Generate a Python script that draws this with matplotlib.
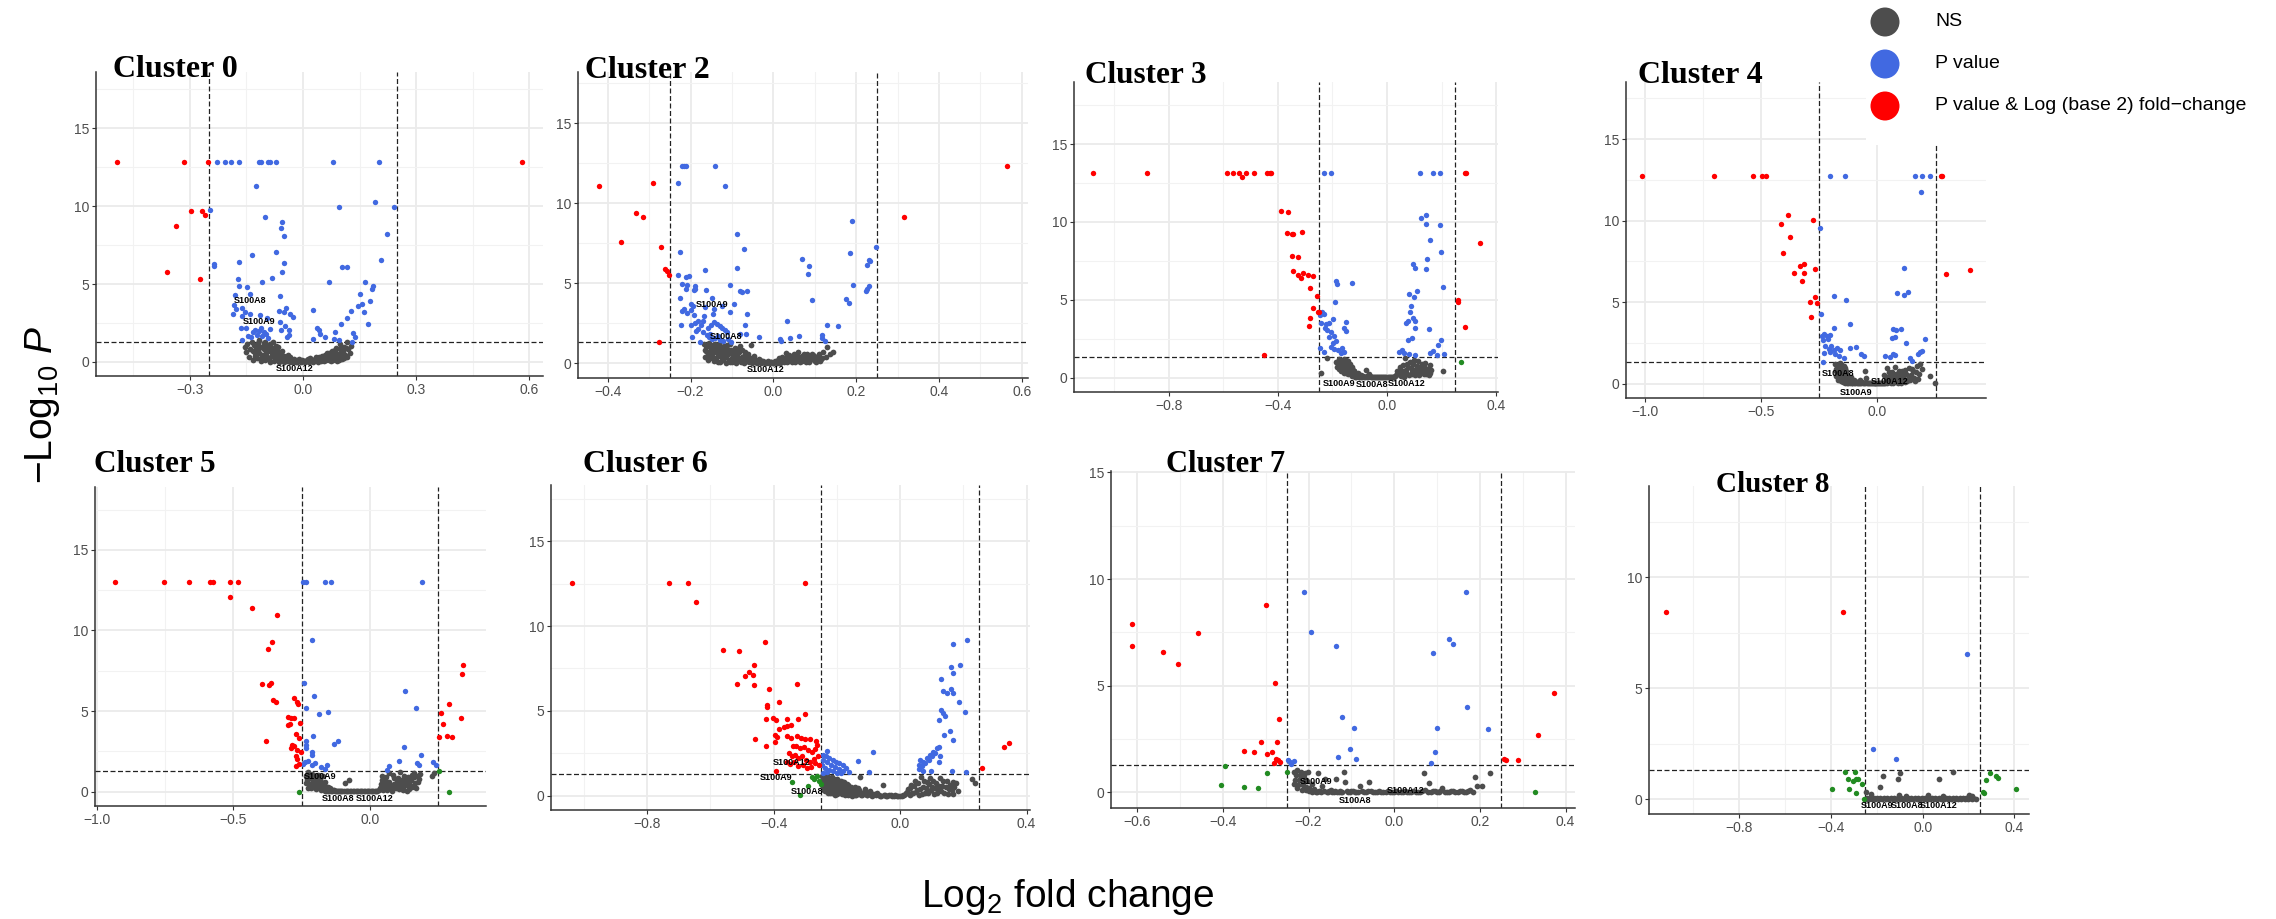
import matplotlib
matplotlib.use("Agg")
import matplotlib.pyplot as plt
from matplotlib.patches import Ellipse
from matplotlib.ticker import MultipleLocator, AutoMinorLocator, FuncFormatter

W, H, DPI = 2276, 919, 100

plt.rcParams['font.family'] = ['Liberation Sans', 'DejaVu Sans']
plt.rcParams['mathtext.fontset'] = 'custom'
plt.rcParams['mathtext.rm'] = 'Liberation Sans'
plt.rcParams['mathtext.it'] = 'Liberation Sans:italic'

# Farben wie EnhancedVolcano
COL_NS = '#4D4D4D'
COL_FC = '#228B22'
COL_P = '#4169E1'
COL_BOTH = '#FF0000'

legend_labels = ['NS', 'P value', 'P value & Log (base 2) fold\u2212change']

# ---------------- Cluster 0 ----------------
c0_both = [(-0.493, 12.8), (-0.316, 12.8), (-0.252, 12.8), (0.581, 12.8), (-0.297, 9.7), (-0.268, 9.7),
           (-0.258, 9.4), (-0.337, 8.7), (-0.360, 5.8), (-0.272, 5.3)]
c0_p = [(-0.228, 12.8), (-0.207, 12.8), (-0.191, 12.8), (-0.168, 12.8), (-0.117, 12.8), (-0.110, 12.8),
        (-0.093, 12.8), (-0.088, 12.8), (-0.070, 12.8), (0.079, 12.8), (0.202, 12.8),
        (-0.124, 11.3), (-0.246, 9.73), (-0.100, 9.28), (-0.056, 9.0), (-0.057, 8.59), (-0.050, 8.1),
        (-0.134, 6.86), (-0.070, 7.05), (-0.235, 6.28), (-0.236, 6.17), (-0.168, 6.41), (-0.049, 6.32),
        (0.192, 10.29), (0.096, 9.96), (0.241, 9.96), (0.223, 8.21), (0.206, 6.56), (0.104, 6.06),
        (0.116, 6.06), (-0.055, 5.74), (-0.082, 5.4), (-0.173, 5.34), (-0.108, 5.14), (0.068, 5.16),
        (0.164, 5.14), (-0.169, 4.89), (-0.148, 4.84), (0.185, 4.9), (0.183, 4.65), (-0.181, 4.31),
        (-0.141, 4.35), (-0.060, 4.26), (0.152, 4.39), (0.178, 3.94), (0.157, 3.7), (0.146, 3.6),
        (-0.182, 3.66), (-0.177, 3.4), (-0.160, 3.43), (-0.154, 3.21), (-0.140, 3.06), (-0.186, 3.09),
        (-0.162, 2.98), (-0.114, 3.0), (-0.095, 2.83), (-0.064, 3.24), (-0.046, 3.45), (-0.050, 3.21),
        (-0.035, 3.1), (-0.025, 2.89), (0.028, 3.34), (0.127, 3.24), (0.163, 3.21), (0.118, 2.85),
        (0.101, 2.44), (0.172, 2.42), (-0.061, 2.57), (-0.163, 2.16), (-0.150, 2.16), (-0.127, 2.08),
        (-0.117, 1.99), (-0.103, 1.95), (-0.088, 2.12), (-0.047, 2.29), (-0.036, 2.04), (-0.058, 2.04),
        (0.038, 2.16), (0.043, 2.08), (0.084, 1.93), (0.133, 1.89), (0.138, 1.61), (0.046, 1.8),
        (0.059, 1.61), (0.026, 1.48), (0.082, 1.48), (0.096, 1.41), (0.130, 1.31), (-0.160, 1.39),
        (-0.137, 1.61), (-0.121, 1.76), (-0.108, 1.69), (-0.093, 1.54), (-0.146, 1.65), (-0.042, 1.63),
        (-0.036, 1.71), (-0.131, 1.9), (-0.112, 2.2), (-0.098, 1.8)]
c0_ns = [(-0.154, 0.95), (-0.150, 0.62), (-0.147, 1.15), (-0.142, 0.35), (-0.139, 0.80), (-0.135, 1.30),
         (-0.131, 0.15), (-0.128, 0.55), (-0.125, 1.05), (-0.121, 0.25), (-0.118, 0.75), (-0.116, 1.38),
         (-0.112, 0.05), (-0.109, 0.45), (-0.106, 0.95), (-0.103, 1.20), (-0.100, 0.10), (-0.097, 0.65),
         (-0.094, 0.30), (-0.091, 1.10), (-0.088, 0.02), (-0.085, 0.85), (-0.082, 0.40), (-0.079, 1.25),
         (-0.076, 0.08), (-0.073, 0.55), (-0.070, 0.20), (-0.067, 0.95), (-0.064, 0.03), (-0.061, 0.38),
         (-0.058, 0.12), (-0.055, 0.70), (-0.051, 0.02), (-0.047, 0.25), (-0.043, 0.05), (-0.039, 0.45),
         (-0.035, 0.02), (-0.030, 0.15), (-0.025, 0.01), (-0.020, 0.08), (-0.015, 0.01), (-0.010, 0.20),
         (-0.005, 0.02), (0.000, 0.06), (0.005, 0.01), (0.010, 0.12), (0.015, 0.02), (0.020, 0.25),
         (0.025, 0.04), (0.030, 0.10), (0.035, 0.30), (0.040, 0.03), (0.045, 0.18), (0.050, 0.40),
         (0.055, 0.06), (0.060, 0.28), (0.064, 0.55), (0.068, 0.10), (0.072, 0.35), (0.076, 0.70),
         (0.080, 0.15), (0.084, 0.50), (0.088, 0.90), (0.091, 0.05), (0.094, 0.30), (0.097, 1.15),
         (0.100, 0.65), (0.104, 0.20), (0.108, 0.95), (0.112, 0.45), (0.116, 1.25), (0.120, 0.80),
         (0.124, 0.55), (0.127, 1.05)]
c0_ns_core = [(-0.133, 0.70), (-0.129, 1.10), (-0.126, 0.40), (-0.123, 0.85), (-0.119, 1.20), (-0.115, 0.60),
              (-0.111, 0.95), (-0.107, 0.30), (-0.104, 0.80), (-0.101, 1.30), (-0.098, 0.45), (-0.095, 1.00),
              (-0.092, 0.70), (-0.089, 0.25), (-0.086, 1.15), (-0.083, 0.60), (-0.080, 0.90), (-0.077, 0.35),
              (-0.074, 0.80), (-0.071, 1.05), (-0.068, 0.45), (-0.065, 0.65), (-0.062, 0.20), (-0.059, 0.50),
              (-0.056, 0.30), (-0.053, 0.15), (-0.049, 0.40), (-0.045, 0.12), (-0.041, 0.22), (-0.037, 0.08),
              (-0.033, 0.30), (-0.028, 0.06), (-0.023, 0.18), (-0.018, 0.03), (-0.012, 0.10), (-0.007, 0.05),
              (-0.002, 0.14), (0.003, 0.04), (0.008, 0.08), (0.013, 0.18), (0.018, 0.06), (0.023, 0.12),
              (0.028, 0.02), (0.033, 0.22), (0.038, 0.10), (0.043, 0.35), (0.048, 0.08), (0.053, 0.22),
              (0.058, 0.45), (0.062, 0.15), (0.066, 0.30), (0.070, 0.60), (0.074, 0.05), (0.078, 0.40),
              (0.082, 0.25), (0.086, 0.75), (0.090, 0.50), (0.095, 0.15), (0.099, 0.85), (0.102, 0.40),
              (0.106, 0.65), (0.110, 0.25), (0.114, 0.90), (0.118, 0.35)]
c0_genes = [('S100A8', -0.141, 3.94), ('S100A9', -0.115, 2.59), ('S100A12', -0.021, -0.39)]

# ---------------- Cluster 2 ----------------
c2_both = [(-0.422, 11.1), (-0.291, 11.26), (-0.332, 9.41), (-0.314, 9.16), (-0.367, 7.56), (-0.272, 7.27),
           (-0.263, 5.86), (-0.256, 5.78), (-0.251, 5.51), (-0.277, 1.35), (0.565, 12.32), (0.315, 9.12)]
c2_p = [(-0.220, 12.32), (-0.216, 12.32), (-0.212, 12.32), (-0.140, 12.32), (-0.231, 11.28), (-0.118, 11.1),
        (-0.089, 8.08), (-0.070, 7.15), (-0.225, 6.96), (-0.089, 5.94), (-0.166, 5.8), (-0.230, 5.51),
        (-0.212, 5.36), (-0.203, 5.44), (-0.221, 4.94), (-0.208, 4.9), (-0.190, 4.84), (-0.192, 4.55),
        (-0.190, 4.61), (-0.210, 4.65), (-0.163, 4.55), (-0.105, 4.92), (-0.080, 4.51), (-0.076, 4.43),
        (-0.063, 4.53), (-0.225, 4.05), (-0.148, 4.07), (-0.199, 3.7), (-0.195, 3.6), (-0.095, 3.68),
        (-0.166, 3.51), (-0.143, 3.41), (-0.125, 3.57), (-0.221, 3.28), (-0.217, 3.39), (-0.209, 3.16),
        (-0.200, 3.32), (-0.192, 3.03), (-0.145, 3.1), (-0.105, 3.18), (-0.064, 3.1), (-0.167, 2.93),
        (-0.224, 2.41), (-0.199, 2.39), (-0.189, 2.53), (-0.181, 2.66), (-0.174, 2.39), (-0.169, 2.66),
        (-0.187, 2.02), (-0.181, 2.14), (-0.150, 2.39), (-0.143, 2.56), (-0.137, 2.47), (-0.130, 2.33),
        (-0.124, 2.2), (-0.118, 2.08), (-0.113, 1.95), (-0.068, 2.41), (-0.196, 1.66), (-0.161, 1.77),
        (-0.155, 1.62), (-0.148, 1.5), (-0.142, 1.56), (-0.135, 1.7), (-0.129, 1.45), (-0.121, 1.41),
        (-0.109, 1.5), (-0.103, 1.35), (-0.177, 1.31), (-0.080, 1.85), (-0.065, 1.83), (-0.035, 1.66),
        (0.033, 2.66), (0.068, 6.5), (0.086, 6.05), (0.084, 5.57), (0.093, 3.93), (0.061, 1.68),
        (0.039, 1.6), (0.017, 1.54), (0.019, 1.41), (0.117, 1.75), (0.117, 1.56), (0.129, 2.41),
        (0.155, 2.31), (0.125, 1.37), (0.190, 8.89), (0.184, 6.9), (0.176, 3.99), (0.182, 3.76),
        (0.193, 4.86), (0.226, 6.17), (0.230, 6.48), (0.233, 6.38), (0.223, 4.53), (0.225, 4.65),
        (0.230, 4.84), (0.249, 7.25), (-0.158, 2.2), (-0.170, 1.95), (-0.152, 1.85)]
c2_ns = [(-0.168, 1.20), (-0.165, 0.85), (-0.162, 1.05), (-0.159, 0.60), (-0.156, 1.25), (-0.153, 0.35),
         (-0.150, 0.90), (-0.147, 1.15), (-0.144, 0.15), (-0.141, 0.70), (-0.138, 1.00), (-0.135, 0.45),
         (-0.132, 1.22), (-0.129, 0.05), (-0.126, 0.80), (-0.123, 0.30), (-0.120, 1.10), (-0.117, 0.55),
         (-0.114, 0.02), (-0.111, 0.90), (-0.108, 0.20), (-0.105, 1.20), (-0.102, 0.65), (-0.099, 0.10),
         (-0.096, 0.40), (-0.093, 0.95), (-0.090, 0.03), (-0.087, 0.55), (-0.084, 0.18), (-0.081, 1.10),
         (-0.078, 0.08), (-0.075, 0.40), (-0.072, 0.02), (-0.068, 0.70), (-0.064, 0.12), (-0.060, 0.30),
         (-0.055, 1.15), (-0.052, 0.02), (-0.048, 0.45), (-0.044, 0.10), (-0.040, 0.01), (-0.035, 0.25),
         (-0.030, 0.03), (-0.025, 0.15), (-0.020, 0.01), (-0.015, 0.06), (-0.010, 0.02), (-0.005, 0.10),
         (0.000, 0.01), (0.005, 0.05), (0.010, 0.22), (0.015, 0.02), (0.020, 0.40), (0.025, 0.08),
         (0.030, 0.62), (0.035, 0.15), (0.040, 0.30), (0.045, 0.05), (0.050, 0.55), (0.055, 0.20),
         (0.060, 0.70), (0.065, 0.10), (0.070, 0.45), (0.075, 0.25), (0.080, 0.60), (0.085, 0.08),
         (0.090, 0.35), (0.095, 0.50), (0.100, 0.15), (0.105, 0.40), (0.110, 0.60), (0.115, 0.25),
         (0.120, 0.70), (0.126, 0.42), (0.130, 1.00), (0.137, 0.55), (0.143, 0.73)]
c2_ns_core = [(-0.166, 0.40), (-0.163, 0.75), (-0.160, 1.10), (-0.157, 0.20), (-0.154, 0.65), (-0.151, 1.00),
              (-0.148, 0.45), (-0.145, 0.85), (-0.142, 1.20), (-0.139, 0.30), (-0.136, 0.75), (-0.133, 0.10),
              (-0.130, 0.55), (-0.127, 1.00), (-0.124, 0.65), (-0.121, 0.20), (-0.118, 0.85), (-0.115, 0.40),
              (-0.112, 1.15), (-0.109, 0.60), (-0.106, 0.05), (-0.103, 0.85), (-0.100, 0.35), (-0.097, 0.75),
              (-0.094, 0.15), (-0.091, 0.60), (-0.088, 0.90), (-0.085, 0.35), (-0.082, 0.70), (-0.079, 0.25),
              (-0.076, 0.85), (-0.073, 0.15), (-0.070, 0.45), (-0.066, 0.25), (-0.062, 0.55), (-0.058, 0.08),
              (-0.054, 0.35), (-0.050, 0.15), (-0.046, 0.25), (-0.042, 0.05), (-0.037, 0.12), (-0.032, 0.20),
              (-0.027, 0.05), (-0.022, 0.10), (-0.017, 0.03), (-0.012, 0.12), (-0.007, 0.05), (-0.002, 0.03),
              (0.003, 0.12), (0.008, 0.04), (0.013, 0.30), (0.018, 0.10), (0.023, 0.20), (0.028, 0.35),
              (0.033, 0.05), (0.038, 0.50), (0.043, 0.20), (0.048, 0.35), (0.053, 0.10), (0.058, 0.45),
              (0.063, 0.30), (0.068, 0.15), (0.073, 0.55), (0.078, 0.10), (0.083, 0.40), (0.088, 0.20),
              (0.093, 0.60), (0.098, 0.30), (0.103, 0.10), (0.108, 0.45), (0.113, 0.15), (0.118, 0.35)]
c2_genes = [('S100A9', -0.149, 3.7), ('S100A8', -0.115, 1.7), ('S100A12', -0.019, -0.42)]

# ---------------- Cluster 3 ----------------
c3_both = [(-1.078, 13.15), (-0.881, 13.15), (-0.587, 13.15), (-0.566, 13.15), (-0.544, 13.15), (-0.516, 13.15),
           (-0.487, 13.15), (-0.440, 13.15), (-0.431, 13.15), (-0.424, 13.15), (-0.532, 12.87), (0.285, 13.15),
           (0.291, 13.15), (-0.390, 10.68), (-0.362, 10.62), (-0.368, 9.31), (-0.350, 9.2), (-0.343, 9.2),
           (-0.311, 9.35), (-0.347, 7.84), (-0.325, 7.74), (-0.345, 6.86), (-0.327, 6.6), (-0.316, 6.38),
           (-0.308, 6.71), (-0.289, 6.6), (-0.273, 6.55), (-0.283, 5.78), (-0.258, 5.24), (-0.273, 4.45),
           (-0.253, 4.23), (-0.250, 4.19), (-0.281, 3.8), (-0.285, 3.33), (-0.451, 1.42), (0.259, 4.96),
           (0.262, 4.86), (0.340, 8.66), (0.285, 3.27)]
c3_fc = [(0.273, 1.03)]
c3_p = [(-0.231, 13.15), (-0.206, 13.15), (0.122, 13.15), (0.170, 13.15), (0.194, 13.15), (0.124, 10.27),
        (0.142, 10.47), (0.144, 9.89), (0.196, 9.82), (0.159, 8.83), (0.198, 8.1), (0.148, 7.63),
        (0.097, 7.31), (0.103, 7.07), (0.144, 6.96), (0.204, 5.82), (0.111, 5.54), (0.082, 5.35),
        (0.100, 5.2), (0.087, 4.62), (0.083, 4.23), (0.095, 3.8), (0.104, 3.63), (0.069, 3.52),
        (0.076, 3.63), (0.102, 3.16), (0.154, 3.14), (0.076, 2.41), (0.092, 2.56), (0.198, 2.39),
        (0.187, 2.06), (0.044, 1.61), (0.054, 1.76), (0.062, 1.57), (0.080, 1.53), (0.102, 1.42),
        (0.159, 1.59), (0.168, 1.72), (0.183, 1.46), (0.208, 1.5), (-0.188, 6.21), (-0.182, 6.02),
        (-0.128, 6.1), (-0.190, 4.88), (-0.240, 4.23), (-0.232, 4.08), (-0.245, 4.02), (-0.243, 3.48),
        (-0.224, 3.44), (-0.212, 3.52), (-0.197, 3.76), (-0.149, 3.59), (-0.228, 3.16), (-0.220, 3.05),
        (-0.157, 3.16), (-0.152, 3.01), (-0.206, 2.9), (-0.193, 2.66), (-0.214, 2.58), (-0.186, 2.34),
        (-0.199, 2.24), (-0.206, 1.98), (-0.196, 1.85), (-0.181, 1.76), (-0.165, 1.89), (-0.159, 1.65),
        (-0.168, 1.59), (-0.247, 1.93), (-0.230, 1.63)]
c3_ns = [(-0.241, 0.30), (-0.219, 1.27), (-0.188, 1.00), (-0.175, 0.55), (-0.170, 1.10), (-0.165, 0.80),
         (-0.162, 0.40), (-0.158, 1.20), (-0.155, 0.65), (-0.152, 0.95), (-0.149, 0.30), (-0.146, 0.75),
         (-0.143, 1.05), (-0.140, 0.50), (-0.137, 0.20), (-0.134, 0.85), (-0.131, 0.40), (-0.128, 0.65),
         (-0.125, 0.15), (-0.122, 0.45), (-0.119, 0.10), (-0.116, 0.30), (-0.112, 0.05), (-0.108, 0.20),
         (-0.104, 0.02), (-0.100, 0.10), (-0.095, 0.01), (-0.090, 0.08), (-0.084, 0.02), (-0.078, 0.50),
         (-0.072, 0.03), (-0.066, 0.25), (-0.060, 0.01), (-0.052, 0.05), (-0.045, 0.01), (-0.038, 0.02),
         (-0.030, 0.01), (-0.022, 0.03), (-0.014, 0.01), (-0.006, 0.02), (0.002, 0.01), (0.010, 0.03),
         (0.018, 0.01), (0.026, 0.05), (0.034, 0.15), (0.040, 0.30), (0.046, 0.55), (0.052, 0.10),
         (0.058, 0.80), (0.064, 0.40), (0.067, 1.27), (0.072, 0.20), (0.078, 0.65), (0.084, 1.00),
         (0.090, 0.35), (0.096, 0.85), (0.102, 0.15), (0.108, 0.55), (0.114, 1.05), (0.120, 0.30),
         (0.126, 0.75), (0.132, 0.45), (0.138, 0.95), (0.144, 0.25), (0.150, 0.55), (0.156, 0.80),
         (0.162, 0.50), (0.206, 0.43)]
c3_ns_core = [(-0.185, 0.70), (-0.180, 0.90), (-0.176, 1.20), (-0.172, 0.75), (-0.168, 0.45), (-0.164, 1.05),
              (-0.160, 0.60), (-0.156, 0.30), (-0.153, 0.85), (-0.150, 1.10), (-0.147, 0.45), (-0.144, 0.20),
              (-0.141, 0.85), (-0.138, 0.60), (-0.135, 0.35), (-0.132, 0.70), (-0.129, 0.10), (-0.126, 0.50),
              (-0.123, 0.25), (-0.120, 0.40), (-0.117, 0.05), (-0.114, 0.20), (-0.110, 0.10), (-0.106, 0.30),
              (-0.102, 0.06), (-0.097, 0.15), (-0.092, 0.03), (-0.087, 0.12), (-0.081, 0.05), (-0.075, 0.10),
              (-0.069, 0.02), (-0.063, 0.08), (-0.056, 0.02), (-0.049, 0.05), (-0.041, 0.02), (-0.034, 0.04),
              (-0.026, 0.01), (-0.018, 0.04), (-0.010, 0.02), (-0.002, 0.04), (0.006, 0.02), (0.014, 0.05),
              (0.022, 0.02), (0.030, 0.10), (0.037, 0.40), (0.043, 0.20), (0.049, 0.70), (0.055, 0.30),
              (0.061, 0.05), (0.069, 0.50), (0.075, 0.90), (0.081, 0.15), (0.087, 0.60), (0.093, 0.25),
              (0.099, 1.10), (0.105, 0.40), (0.111, 0.75), (0.117, 0.15), (0.123, 0.55), (0.129, 0.90),
              (0.135, 0.20), (0.141, 0.60), (0.147, 0.35), (0.153, 0.15), (0.159, 0.30)]
c3_genes = [('S100A9', -0.174, -0.39), ('S100A8', -0.054, -0.43), ('S100A12', 0.073, -0.39)]

# ---------------- Cluster 4 ----------------
c4_both = [(-1.011, 12.73), (-0.702, 12.73), (-0.536, 12.73), (-0.494, 12.73), (-0.477, 12.73), (0.272, 12.73),
           (0.278, 12.73), (-0.383, 10.36), (-0.415, 9.81), (-0.277, 10.03), (-0.375, 8.99), (-0.404, 8.03),
           (-0.332, 7.21), (-0.315, 7.36), (-0.266, 7.05), (-0.358, 6.76), (-0.314, 6.76), (-0.324, 6.27),
           (-0.268, 5.33), (-0.288, 4.99), (-0.258, 4.93), (-0.284, 4.07), (0.295, 6.7), (0.397, 6.97)]
c4_p = [(-0.203, 12.73), (-0.140, 12.73), (0.160, 12.73), (0.193, 12.73), (0.228, 12.73), (0.189, 11.77),
        (-0.248, 9.54), (0.113, 7.11), (0.085, 5.56), (0.113, 5.46), (0.132, 5.6), (-0.188, 5.35),
        (-0.135, 5.11), (-0.244, 4.27), (-0.119, 3.68), (-0.185, 3.41), (0.066, 3.37), (0.082, 3.31),
        (0.103, 3.33), (0.064, 2.78), (0.077, 2.84), (0.122, 2.51), (0.205, 2.72), (-0.238, 2.94),
        (-0.228, 3.07), (-0.216, 2.9), (-0.202, 2.96), (-0.234, 2.7), (-0.211, 2.74), (-0.226, 2.33),
        (-0.209, 2.13), (-0.198, 2.29), (-0.188, 2.04), (-0.173, 2.19), (-0.159, 2.04), (-0.119, 2.17),
        (-0.090, 2.25), (-0.228, 1.88), (-0.202, 1.96), (-0.181, 1.84), (-0.163, 1.68), (-0.145, 1.55),
        (-0.069, 1.8), (-0.056, 1.72), (-0.235, 1.31), (0.054, 1.64), (0.067, 1.84), (0.076, 1.76),
        (0.034, 1.72), (0.142, 1.57), (0.148, 1.41), (0.173, 1.8), (0.182, 1.94), (0.192, 2.0)]
c4_ns = [(-0.180, 1.20), (-0.177, 0.90), (-0.174, 0.60), (-0.171, 1.05), (-0.168, 0.35), (-0.165, 0.80),
         (-0.162, 1.25), (-0.159, 0.50), (-0.156, 0.15), (-0.153, 0.95), (-0.150, 0.65), (-0.147, 0.30),
         (-0.144, 1.10), (-0.141, 0.05), (-0.138, 0.45), (-0.135, 0.75), (-0.132, 0.20), (-0.129, 0.55),
         (-0.125, 0.02), (-0.121, 0.30), (-0.117, 0.10), (-0.112, 0.40), (-0.107, 0.05), (-0.102, 0.20),
         (-0.097, 0.02), (-0.090, 0.10), (-0.083, 0.03), (-0.076, 0.25), (-0.069, 0.01), (-0.062, 0.06),
         (-0.052, 0.76), (-0.055, 0.02), (-0.048, 0.35), (-0.040, 0.01), (-0.032, 0.04), (-0.024, 0.01),
         (-0.016, 0.02), (-0.008, 0.01), (0.000, 0.03), (0.008, 0.01), (0.016, 0.04), (0.024, 0.01),
         (0.030, 0.55), (0.034, 0.03), (0.040, 0.95), (0.046, 0.10), (0.052, 0.45), (0.058, 0.02),
         (0.064, 0.70), (0.070, 0.20), (0.076, 1.00), (0.082, 0.35), (0.088, 0.05), (0.094, 0.55),
         (0.100, 0.20), (0.106, 0.80), (0.112, 0.40), (0.118, 0.10), (0.124, 0.60), (0.130, 0.30),
         (0.138, 0.95), (0.146, 0.50), (0.155, 0.75), (0.163, 0.18), (0.172, 1.10), (0.180, 0.60),
         (0.190, 0.90), (0.225, 0.49), (0.248, 0.04)]
c4_ns_core = [(-0.179, 0.45), (-0.176, 0.75), (-0.173, 1.15), (-0.170, 0.20), (-0.167, 0.65), (-0.164, 1.00),
              (-0.161, 0.30), (-0.158, 0.85), (-0.155, 1.20), (-0.152, 0.40), (-0.149, 0.10), (-0.146, 0.80),
              (-0.143, 0.55), (-0.140, 0.25), (-0.137, 0.95), (-0.134, 0.40), (-0.131, 0.05), (-0.128, 0.30),
              (-0.124, 0.15), (-0.119, 0.05), (-0.114, 0.20), (-0.109, 0.02), (-0.104, 0.10), (-0.099, 0.04),
              (-0.094, 0.15), (-0.087, 0.02), (-0.080, 0.06), (-0.073, 0.02), (-0.066, 0.10), (-0.058, 0.02),
              (-0.044, 0.05), (-0.036, 0.02), (-0.028, 0.03), (-0.020, 0.01), (-0.012, 0.03), (-0.004, 0.01),
              (0.004, 0.02), (0.012, 0.03), (0.020, 0.01), (0.028, 0.03), (0.036, 0.30), (0.043, 0.05),
              (0.049, 0.70), (0.055, 0.15), (0.061, 0.40), (0.067, 0.05), (0.073, 0.30), (0.079, 0.60),
              (0.085, 0.12), (0.091, 0.80), (0.097, 0.35), (0.103, 0.05), (0.109, 0.55), (0.115, 0.25),
              (0.121, 0.85), (0.127, 0.15), (0.134, 0.45), (0.142, 0.25), (0.150, 0.90), (0.159, 0.35),
              (0.168, 0.70), (0.176, 0.30), (0.185, 1.20)]
c4_genes = [('S100A8', -0.169, 0.61), ('S100A12', 0.054, 0.14), ('S100A9', -0.092, -0.57)]

# ---------------- Cluster 5 ----------------
c5_both = [(-0.934, 13.02), (-0.754, 13.02), (-0.661, 13.02), (-0.587, 13.02), (-0.573, 13.02), (-0.512, 13.02),
           (-0.484, 13.02), (-0.511, 12.07), (-0.432, 11.4), (-0.340, 10.97), (-0.360, 9.26), (-0.374, 8.82),
           (-0.395, 6.65), (-0.368, 6.61), (-0.361, 6.74), (-0.354, 5.7), (-0.344, 5.54), (-0.280, 5.83),
           (-0.267, 5.54), (-0.265, 5.41), (-0.301, 4.61), (-0.291, 4.57), (-0.279, 4.59), (-0.301, 4.11),
           (-0.294, 4.19), (-0.256, 4.24), (-0.271, 3.57), (-0.261, 3.33), (-0.380, 3.16), (-0.284, 2.91),
           (-0.277, 2.81), (-0.290, 2.71), (-0.268, 2.56), (-0.251, 2.46), (-0.270, 2.19), (-0.267, 2.0),
           (-0.271, 1.61), (-0.259, 1.74), (0.260, 4.9), (0.268, 4.21), (0.290, 5.41), (0.252, 3.41),
           (0.282, 3.47), (0.299, 3.41), (0.334, 4.57), (0.335, 7.29), (0.339, 7.87)]
c5_fc = [(-0.261, 0.0), (0.251, 1.26), (0.289, 0.0)]
c5_p = [(-0.244, 13.02), (-0.234, 13.02), (-0.165, 13.02), (-0.143, 13.02), (0.189, 13.02), (-0.211, 9.38),
        (-0.240, 6.74), (-0.206, 5.95), (-0.233, 5.17), (-0.185, 4.83), (-0.155, 4.94), (0.129, 6.22),
        (0.168, 5.17), (-0.207, 3.47), (-0.235, 3.12), (-0.234, 2.91), (-0.233, 2.73), (-0.133, 2.93),
        (-0.117, 3.14), (-0.211, 2.44), (-0.212, 2.25), (0.124, 2.77), (0.185, 2.29), (-0.244, 1.74),
        (-0.238, 1.86), (-0.226, 1.9), (-0.213, 1.63), (-0.200, 1.78), (-0.180, 1.53), (-0.165, 1.43),
        (-0.157, 1.67), (0.104, 1.9), (0.070, 1.57), (0.061, 1.32), (0.171, 1.78), (0.179, 1.65),
        (0.229, 1.86), (0.240, 1.63)]
c5_ns = [(-0.236, 1.00), (-0.232, 0.70), (-0.228, 1.20), (-0.224, 0.45), (-0.220, 0.90), (-0.216, 0.25),
         (-0.212, 1.10), (-0.208, 0.60), (-0.204, 0.35), (-0.200, 0.85), (-0.196, 0.15), (-0.192, 1.05),
         (-0.188, 0.50), (-0.184, 0.75), (-0.180, 0.10), (-0.176, 0.40), (-0.172, 0.95), (-0.168, 0.20),
         (-0.164, 0.60), (-0.160, 0.05), (-0.155, 0.30), (-0.150, 0.02), (-0.145, 0.15), (-0.139, 0.01),
         (-0.132, 0.08), (-0.125, 0.02), (-0.118, 0.01), (-0.110, 0.05), (-0.102, 0.01), (-0.091, 0.56),
         (-0.085, 0.02), (-0.076, 0.74), (-0.068, 0.01), (-0.058, 0.03), (-0.048, 0.01), (-0.038, 0.02),
         (-0.028, 0.01), (-0.018, 0.03), (-0.008, 0.01), (0.002, 0.02), (0.012, 0.01), (0.022, 0.04),
         (0.032, 0.10), (0.040, 0.50), (0.045, 1.00), (0.050, 0.25), (0.056, 0.75), (0.062, 0.10),
         (0.068, 1.15), (0.074, 0.40), (0.080, 0.05), (0.086, 0.85), (0.092, 0.30), (0.098, 0.60),
         (0.104, 0.15), (0.110, 1.22), (0.116, 0.45), (0.122, 0.20), (0.128, 0.70), (0.134, 0.05),
         (0.140, 0.90), (0.146, 0.40), (0.152, 1.05), (0.159, 1.16), (0.166, 0.55), (0.172, 0.95),
         (0.180, 0.80), (0.232, 1.16), (0.225, 1.00)]
c5_ns_core = [(-0.234, 0.55), (-0.230, 0.85), (-0.226, 0.20), (-0.222, 1.10), (-0.218, 0.50), (-0.214, 0.80),
              (-0.210, 0.30), (-0.206, 1.00), (-0.202, 0.55), (-0.198, 0.25), (-0.194, 0.75), (-0.190, 0.35),
              (-0.186, 0.95), (-0.182, 0.20), (-0.178, 0.60), (-0.174, 0.15), (-0.170, 0.45), (-0.166, 0.05),
              (-0.162, 0.30), (-0.158, 0.12), (-0.153, 0.05), (-0.148, 0.20), (-0.142, 0.03), (-0.136, 0.10),
              (-0.129, 0.02), (-0.122, 0.06), (-0.114, 0.02), (-0.106, 0.04), (-0.097, 0.02), (-0.088, 0.05),
              (-0.080, 0.01), (-0.072, 0.04), (-0.063, 0.01), (-0.053, 0.03), (-0.043, 0.01), (-0.033, 0.03),
              (-0.023, 0.01), (-0.013, 0.03), (-0.003, 0.01), (0.007, 0.03), (0.017, 0.01), (0.027, 0.05),
              (0.036, 0.20), (0.043, 0.70), (0.048, 0.10), (0.053, 0.45), (0.059, 0.90), (0.065, 0.30),
              (0.071, 0.60), (0.077, 0.15), (0.083, 1.05), (0.089, 0.50), (0.095, 0.20), (0.101, 0.85),
              (0.107, 0.35), (0.113, 0.70), (0.119, 0.10), (0.125, 0.95), (0.131, 0.40), (0.137, 0.65),
              (0.143, 0.15), (0.149, 0.75), (0.155, 0.30), (0.162, 0.90), (0.169, 0.25), (0.176, 0.60),
              (0.184, 1.10)]
c5_genes = [('S100A9', -0.183, 0.95), ('S100A8', -0.116, -0.43), ('S100A12', 0.016, -0.43)]

# ---------------- Cluster 6 ----------------
c6_both = [(-1.037, 12.54), (-0.730, 12.54), (-0.671, 12.54), (-0.301, 12.54), (-0.646, 11.44), (-0.428, 9.06),
           (-0.561, 8.57), (-0.508, 8.51), (-0.463, 7.69), (-0.477, 7.31), (-0.466, 7.12), (-0.490, 7.06),
           (-0.515, 6.59), (-0.462, 6.51), (-0.415, 6.31), (-0.326, 6.59), (-0.422, 5.33), (-0.421, 5.23),
           (-0.383, 5.5), (-0.302, 4.8), (-0.425, 4.52), (-0.401, 4.58), (-0.391, 4.44), (-0.356, 4.54),
           (-0.323, 4.54), (-0.383, 3.91), (-0.368, 4.05), (-0.357, 4.13), (-0.344, 4.15), (-0.458, 3.34),
           (-0.425, 2.91), (-0.396, 3.56), (-0.390, 3.44), (-0.396, 3.16), (-0.356, 3.52), (-0.346, 3.4),
           (-0.325, 3.54), (-0.313, 3.4), (-0.301, 3.36), (-0.285, 3.32), (-0.265, 3.22), (-0.263, 2.99),
           (-0.340, 2.91), (-0.329, 2.95), (-0.316, 2.81), (-0.304, 2.87), (-0.291, 2.71), (-0.278, 2.61),
           (-0.268, 2.75), (-0.352, 2.52), (-0.343, 2.32), (-0.332, 2.42), (-0.322, 2.22), (-0.310, 2.36),
           (-0.297, 2.12), (-0.285, 2.02), (-0.272, 2.16), (-0.259, 2.32), (-0.359, 2.02), (-0.348, 1.89),
           (-0.335, 1.97), (-0.323, 1.77), (-0.308, 1.83), (-0.295, 1.67), (-0.283, 1.73), (-0.268, 1.93),
           (-0.255, 1.83), (-0.391, 1.45), (0.260, 1.65), (0.329, 2.85), (0.343, 3.09)]
c6_fc = [(-0.342, 0.83), (-0.292, 0.59), (-0.316, 0.04), (-0.278, 1.14), (-0.272, 0.98), (-0.264, 1.18),
         (-0.255, 0.9), (-0.250, 0.71)]
c6_p = [(0.213, 9.2), (0.169, 8.96), (0.190, 7.73), (0.160, 7.59), (0.168, 7.23), (0.130, 6.88),
        (0.137, 6.15), (0.150, 6.05), (0.162, 6.29), (0.167, 6.05), (0.187, 5.5), (0.130, 5.03),
        (0.137, 4.88), (0.141, 4.72), (0.204, 4.93), (0.122, 4.44), (0.159, 3.83), (0.140, 3.6),
        (0.169, 3.3), (0.116, 2.81), (0.123, 2.89), (0.105, 2.61), (0.095, 2.42), (0.084, 2.22),
        (0.074, 2.02), (0.063, 2.12), (0.111, 2.52), (0.100, 2.32), (0.090, 2.12), (0.079, 1.93),
        (0.069, 1.77), (0.060, 1.61), (0.061, 1.83), (0.127, 2.32), (0.123, 2.02), (0.098, 1.49),
        (0.071, 1.45), (0.209, 1.42), (0.163, 1.49), (-0.086, 2.56), (-0.132, 2.08), (-0.098, 1.4),
        (-0.230, 2.65), (-0.245, 2.42), (-0.234, 2.32), (-0.224, 2.22), (-0.213, 2.12), (-0.202, 2.02),
        (-0.192, 1.93), (-0.181, 1.83), (-0.171, 1.63), (-0.243, 2.12), (-0.232, 1.97), (-0.219, 1.83),
        (-0.206, 1.73), (-0.193, 1.57), (-0.179, 1.49), (-0.163, 1.38), (-0.248, 1.83), (-0.237, 1.63),
        (-0.226, 1.53), (-0.211, 1.44), (-0.200, 1.34), (-0.188, 1.34), (-0.243, 1.34), (-0.230, 1.40)]
c6_ns = [(-0.248, 1.20), (-0.245, 0.85), (-0.242, 0.55), (-0.239, 1.05), (-0.236, 0.30), (-0.233, 0.75),
         (-0.230, 1.25), (-0.227, 0.45), (-0.224, 0.95), (-0.221, 0.15), (-0.218, 0.65), (-0.215, 1.10),
         (-0.212, 0.35), (-0.209, 0.85), (-0.206, 0.05), (-0.203, 0.55), (-0.200, 1.00), (-0.197, 0.25),
         (-0.194, 0.70), (-0.191, 0.45), (-0.188, 0.90), (-0.185, 0.10), (-0.182, 0.60), (-0.179, 0.35),
         (-0.176, 0.80), (-0.173, 0.05), (-0.170, 0.50), (-0.167, 0.25), (-0.164, 0.65), (-0.160, 0.10),
         (-0.156, 0.40), (-0.152, 0.02), (-0.148, 0.30), (-0.144, 0.55), (-0.140, 0.08), (-0.136, 0.25),
         (-0.132, 0.45), (-0.127, 1.14), (-0.124, 0.03), (-0.118, 0.20), (-0.112, 0.40), (-0.106, 0.05),
         (-0.100, 0.15), (-0.094, 0.30), (-0.088, 0.02), (-0.080, 0.10), (-0.072, 0.20), (-0.064, 0.02),
         (-0.054, 0.63), (-0.048, 0.06), (-0.040, 0.01), (-0.030, 0.04), (-0.020, 0.01), (-0.010, 0.02),
         (0.000, 0.01), (0.010, 0.03), (0.018, 0.15), (0.024, 0.40), (0.030, 0.05), (0.036, 0.65),
         (0.042, 0.20), (0.048, 0.90), (0.054, 0.35), (0.060, 0.05), (0.066, 1.10), (0.072, 0.50),
         (0.078, 0.15), (0.084, 0.80), (0.090, 0.30), (0.096, 1.05), (0.102, 0.55), (0.108, 0.10),
         (0.114, 0.75), (0.120, 0.35), (0.127, 1.04), (0.134, 0.60), (0.140, 0.20), (0.147, 0.85),
         (0.154, 0.40), (0.160, 0.65), (0.166, 0.10), (0.172, 0.50), (0.178, 0.75), (0.184, 0.30),
         (0.226, 1.02), (0.238, 0.77)]
c6_ns_core = [(-0.247, 0.65), (-0.244, 1.00), (-0.241, 0.35), (-0.238, 0.80), (-0.235, 1.20), (-0.232, 0.55),
              (-0.229, 0.15), (-0.226, 0.70), (-0.223, 1.05), (-0.220, 0.40), (-0.217, 0.85), (-0.214, 0.20),
              (-0.211, 0.60), (-0.208, 1.00), (-0.205, 0.35), (-0.202, 0.75), (-0.199, 0.10), (-0.196, 0.50),
              (-0.193, 0.90), (-0.190, 0.25), (-0.187, 0.65), (-0.184, 0.40), (-0.181, 0.80), (-0.178, 0.15),
              (-0.175, 0.55), (-0.172, 0.30), (-0.169, 0.70), (-0.166, 0.05), (-0.163, 0.40), (-0.159, 0.25),
              (-0.155, 0.55), (-0.151, 0.15), (-0.147, 0.40), (-0.143, 0.05), (-0.139, 0.30), (-0.135, 0.10),
              (-0.130, 0.35), (-0.126, 0.15), (-0.121, 0.05), (-0.115, 0.25), (-0.109, 0.10), (-0.103, 0.03),
              (-0.097, 0.20), (-0.091, 0.06), (-0.084, 0.12), (-0.076, 0.03), (-0.068, 0.08), (-0.060, 0.02),
              (-0.052, 0.05), (-0.044, 0.02), (-0.035, 0.03), (-0.025, 0.01), (-0.015, 0.03), (-0.005, 0.01),
              (0.005, 0.02), (0.014, 0.06), (0.021, 0.25), (0.027, 0.10), (0.033, 0.45), (0.039, 0.15),
              (0.045, 0.60), (0.051, 0.25), (0.057, 0.75), (0.063, 0.40), (0.069, 0.10), (0.075, 0.90),
              (0.081, 0.45), (0.087, 0.20), (0.093, 0.70), (0.099, 0.35), (0.105, 0.85), (0.111, 0.45),
              (0.117, 0.15), (0.123, 0.60), (0.130, 0.30), (0.137, 0.85), (0.144, 0.50), (0.151, 0.10),
              (0.157, 0.65), (0.163, 0.35), (0.169, 0.80)]
c6_genes = [('S100A12', -0.344, 1.97), ('S100A9', -0.392, 1.06), ('S100A8', -0.293, 0.24)]

# ---------------- Cluster 7 ----------------
c7_both = [(-0.611, 7.91), (-0.612, 6.88), (-0.540, 6.57), (-0.504, 6.04), (-0.458, 7.46), (-0.299, 8.79),
           (-0.279, 5.14), (-0.268, 3.45), (-0.312, 2.36), (-0.273, 2.36), (-0.351, 1.92), (-0.328, 1.89),
           (-0.297, 1.81), (-0.286, 1.89), (-0.276, 1.56), (-0.272, 1.53), (-0.267, 1.45), (-0.281, 1.37),
           (0.257, 1.56), (0.260, 1.53), (0.288, 1.5), (0.335, 2.67), (0.373, 4.64)]
c7_fc = [(-0.395, 1.26), (-0.404, 0.36), (-0.350, 0.27), (-0.318, 0.2), (-0.297, 0.89), (-0.251, 0.95),
         (0.328, 0.0)]
c7_p = [(-0.211, 9.41), (-0.194, 7.51), (-0.135, 6.88), (0.167, 9.41), (0.128, 7.2), (0.138, 6.95),
        (0.091, 6.52), (0.170, 4.0), (-0.121, 3.54), (-0.093, 3.04), (0.100, 3.04), (0.219, 2.98),
        (-0.103, 2.04), (0.096, 1.89), (-0.132, 1.67), (-0.090, 1.55), (0.086, 1.37), (-0.247, 1.53),
        (-0.240, 1.34), (-0.235, 1.48), (-0.243, 1.45)]
c7_ns = [(-0.235, 0.95), (-0.231, 0.60), (-0.227, 1.06), (-0.224, 0.35), (-0.220, 0.80), (-0.216, 0.10),
         (-0.213, 0.50), (-0.209, 0.90), (-0.205, 0.25), (-0.202, 0.94), (-0.198, 0.05), (-0.193, 0.40),
         (-0.188, 0.15), (-0.183, 0.02), (-0.178, 0.91), (-0.173, 0.08), (-0.168, 0.30), (-0.161, 0.62),
         (-0.155, 0.03), (-0.148, 0.10), (-0.141, 0.01), (-0.136, 0.62), (-0.130, 0.04), (-0.124, 0.01),
         (-0.118, 0.97), (-0.114, 0.47), (-0.108, 0.02), (-0.100, 0.08), (-0.092, 0.01), (-0.084, 0.03),
         (-0.079, 0.28), (-0.070, 0.01), (-0.062, 0.05), (-0.058, 0.47), (-0.050, 0.01), (-0.040, 0.02),
         (-0.030, 0.01), (-0.020, 0.03), (-0.010, 0.01), (0.000, 0.02), (0.010, 0.01), (0.020, 0.03),
         (0.030, 0.01), (0.040, 0.04), (0.050, 0.01), (0.060, 0.03), (0.070, 0.91), (0.073, 0.10),
         (0.082, 0.44), (0.086, 0.02), (0.095, 0.06), (0.104, 0.01), (0.111, 0.20), (0.118, 0.03),
         (0.128, 0.01), (0.138, 0.05), (0.148, 0.02), (0.158, 0.08), (0.168, 0.01), (0.178, 0.10),
         (0.189, 0.72), (0.193, 0.31), (0.205, 0.28), (0.224, 0.91)]
c7_ns_core = [(-0.233, 0.40), (-0.229, 0.80), (-0.226, 0.20), (-0.222, 0.60), (-0.218, 0.95), (-0.214, 0.35),
              (-0.211, 0.70), (-0.207, 0.10), (-0.203, 0.55), (-0.200, 0.20), (-0.196, 0.10), (-0.191, 0.03),
              (-0.186, 0.08), (-0.180, 0.02), (-0.175, 0.05), (-0.170, 0.01), (-0.165, 0.06), (-0.158, 0.02),
              (-0.152, 0.05), (-0.145, 0.02), (-0.138, 0.06), (-0.133, 0.02), (-0.127, 0.05), (-0.121, 0.02),
              (-0.111, 0.05), (-0.104, 0.02), (-0.096, 0.05), (-0.088, 0.02), (-0.075, 0.05), (-0.066, 0.02),
              (-0.054, 0.05), (-0.045, 0.02), (-0.035, 0.05), (-0.025, 0.02), (-0.015, 0.05), (-0.005, 0.02),
              (0.005, 0.05), (0.015, 0.02), (0.025, 0.05), (0.035, 0.02), (0.045, 0.05), (0.055, 0.02),
              (0.065, 0.05), (0.078, 0.02), (0.090, 0.05), (0.099, 0.02), (0.108, 0.05), (0.123, 0.02),
              (0.133, 0.05), (0.143, 0.02), (0.153, 0.05), (0.163, 0.02), (0.173, 0.05), (0.183, 0.02)]
c7_genes = [('S100A9', -0.183, 0.52), ('S100A12', 0.027, 0.08), ('S100A8', -0.092, -0.37)]

# ---------------- Cluster 8 ----------------
c8_both = [(-1.119, 8.44), (-0.346, 8.44)]
c8_fc = [(-0.394, 0.45), (-0.339, 1.2), (-0.327, 0.9), (-0.320, 0.45), (-0.295, 1.24), (-0.304, 0.82),
         (-0.292, 0.9), (-0.283, 0.9), (-0.289, 0.27), (-0.266, 0.67), (-0.254, 0.0), (0.266, 0.27),
         (0.262, 0.3), (0.276, 0.87), (0.296, 1.17), (0.321, 1.02), (0.328, 0.94), (0.407, 0.45)]
c8_p = [(0.193, 6.55), (-0.215, 2.25), (-0.116, 1.81)]
c8_ns = [(-0.246, 0.31), (-0.225, 0.24), (-0.185, 0.54), (-0.171, 1.02), (-0.108, 0.90), (-0.099, 1.17),
         (-0.102, 0.18), (-0.074, 0.12), (0.022, 0.18), (0.073, 0.90), (0.090, 0.12), (0.131, 1.24),
         (0.202, 0.18), (0.215, 0.12), (0.234, 0.00), (-0.249, 0.02), (-0.236, 0.01), (-0.221, 0.02),
         (-0.207, 0.01), (-0.191, 0.02), (-0.176, 0.01), (-0.162, 0.02), (-0.146, 0.01), (-0.131, 0.02),
         (-0.117, 0.01), (-0.101, 0.02), (-0.086, 0.01), (-0.071, 0.02), (-0.056, 0.01), (-0.041, 0.02),
         (-0.026, 0.01), (-0.011, 0.02), (0.004, 0.01), (0.019, 0.02), (0.034, 0.01), (0.049, 0.02),
         (0.064, 0.01), (0.079, 0.02), (0.094, 0.01), (0.109, 0.02), (0.124, 0.01), (0.139, 0.02),
         (0.154, 0.01), (0.169, 0.02), (0.184, 0.01), (0.199, 0.02), (0.214, 0.01)]
c8_ns_core = [(-0.243, 0.05), (-0.228, 0.04), (-0.214, 0.05), (-0.199, 0.04), (-0.184, 0.05), (-0.169, 0.04),
              (-0.154, 0.05), (-0.139, 0.04), (-0.124, 0.05), (-0.109, 0.04), (-0.094, 0.05), (-0.079, 0.04),
              (-0.064, 0.05), (-0.049, 0.04), (-0.034, 0.05), (-0.019, 0.04), (-0.004, 0.05), (0.011, 0.04),
              (0.026, 0.05), (0.041, 0.04), (0.056, 0.05), (0.071, 0.04), (0.086, 0.05), (0.101, 0.04),
              (0.116, 0.05), (0.131, 0.04), (0.146, 0.05), (0.161, 0.04), (0.176, 0.05), (0.191, 0.04),
              (0.206, 0.05), (0.221, 0.04)]
c8_genes = [('S100A9', -0.198, -0.3), ('S100A8', -0.068, -0.3), ('S100A12', 0.068, -0.3)]

# Layout: Pixel-Box (links, rechts, oben, unten), Achsenbereiche, Titel (x, Grundlinie, Größe)
panels = [
    dict(name='Cluster 0', box=(96, 543, 72, 376), xlim=(-0.548, 0.636), ylim=(-0.9, 18.6), xstep=0.3,
         title=(113, 77, 23), ns=c0_ns + c0_ns_core, fc=[], p=c0_p, both=c0_both, genes=c0_genes),
    dict(name='Cluster 2', box=(578, 1028, 72, 378), xlim=(-0.472, 0.615), ylim=(-0.92, 18.2), xstep=0.2,
         title=(585, 78, 23), ns=c2_ns + c2_ns_core, fc=[], p=c2_p, both=c2_both, genes=c2_genes),
    dict(name='Cluster 3', box=(1074, 1498, 82, 392), xlim=(-1.148, 0.407), ylim=(-0.93, 19.0), xstep=0.4,
         title=(1085, 83, 22.5), ns=c3_ns + c3_ns_core, fc=c3_fc, p=c3_p, both=c3_both, genes=c3_genes),
    dict(name='Cluster 4', box=(1626, 1986, 82, 398), xlim=(-1.08, 0.467), ylim=(-0.88, 18.5), xstep=0.5,
         title=(1638, 83, 23), ns=c4_ns + c4_ns_core, fc=[], p=c4_p, both=c4_both, genes=c4_genes),
    dict(name='Cluster 5', box=(95, 486, 487, 806), xlim=(-1.006, 0.424), ylim=(-0.89, 18.9), xstep=0.5,
         title=(94, 472, 22.5), ns=c5_ns + c5_ns_core, fc=c5_fc, p=c5_p, both=c5_both, genes=c5_genes),
    dict(name='Cluster 6', box=(551, 1030, 485, 810), xlim=(-1.104, 0.411), ylim=(-0.83, 18.3), xstep=0.4,
         title=(583, 472, 23), ns=c6_ns + c6_ns_core, fc=c6_fc, p=c6_p, both=c6_both, genes=c6_genes),
    dict(name='Cluster 7', box=(1111, 1575, 471, 808), xlim=(-0.661, 0.422), ylim=(-0.73, 15.07), xstep=0.2,
         title=(1166, 472, 22), ns=c7_ns + c7_ns_core, fc=c7_fc, p=c7_p, both=c7_both, genes=c7_genes),
    dict(name='Cluster 8', box=(1649, 2029, 486, 814), xlim=(-1.194, 0.464), ylim=(-0.67, 14.1), xstep=0.4,
         title=(1716, 492, 21), ns=c8_ns + c8_ns_core, fc=c8_fc, p=c8_p, both=c8_both, genes=c8_genes),
]

fig = plt.figure(figsize=(W / DPI, H / DPI), dpi=DPI)
fig.patch.set_facecolor('white')


def px_axes(l, r, t, b):
    return fig.add_axes([l / W, 1 - b / H, (r - l) / W, (b - t) / H])


def fmt_x(v, _):
    if abs(v) < 1e-9:
        v = 0.0
    return f"{v:.1f}".replace('-', '\u2212')


for pan in panels:
    ax = px_axes(*pan['box'])
    ax.set_xlim(pan['xlim'])
    ax.set_ylim(pan['ylim'])
    ax.xaxis.set_major_locator(MultipleLocator(pan['xstep']))
    ax.xaxis.set_minor_locator(AutoMinorLocator(2))
    ax.yaxis.set_major_locator(MultipleLocator(5))
    ax.yaxis.set_minor_locator(AutoMinorLocator(2))
    ax.xaxis.set_major_formatter(FuncFormatter(fmt_x))
    ax.yaxis.set_major_formatter(FuncFormatter(lambda v, _: f"{v:.0f}"))
    ax.grid(True, which='major', color='#EBEBEB', lw=1.3)
    ax.grid(True, which='minor', color='#F2F2F2', lw=0.8)
    ax.set_axisbelow(True)
    for s in ['top', 'right']:
        ax.spines[s].set_visible(False)
    for s in ['left', 'bottom']:
        ax.spines[s].set_color('#333333')
        ax.spines[s].set_linewidth(1.1)
    ax.tick_params(which='major', length=3, width=0.8, color='#333333',
                   labelsize=10, labelcolor='#4D4D4D', pad=2)
    ax.tick_params(which='minor', length=0)

    # Schwellenwerte
    for xv in (-0.25, 0.25):
        ax.axvline(xv, color='#222222', lw=0.9, ls=(0, (4, 2)), zorder=2)
    ax.axhline(1.30, color='#222222', lw=0.9, ls=(0, (4, 2)), zorder=2)

    for pts, col, sz in ((pan['ns'], COL_NS, 17), (pan['fc'], COL_FC, 15),
                         (pan['p'], COL_P, 15), (pan['both'], COL_BOTH, 15)):
        if pts:
            xs, ys = zip(*pts)
            ax.scatter(xs, ys, s=sz, color=col, lw=0, zorder=3, clip_on=False)

    for lab, gx, gy in pan['genes']:
        ax.text(gx, gy, lab, fontsize=6.5, fontweight='bold', ha='center', va='center', zorder=5)

    tx, ty, ts = pan['title']
    fig.text(tx / W, 1 - ty / H, pan['name'], family='Liberation Serif', fontweight='bold',
             fontsize=ts, ha='left', va='baseline')

# Legende oben rechts (weißer Kasten über Cluster 4)
lax = px_axes(1866, 2276, 0, 145)
lax.set_xlim(1866, 2276)
lax.set_ylim(145, 0)
lax.set_facecolor('white')
lax.set_xticks([])
lax.set_yticks([])
for s in lax.spines.values():
    s.set_visible(False)
for i, (lab, col) in enumerate(zip(legend_labels, [COL_NS, COL_P, COL_BOTH])):
    yc = 22 + i * 42
    lax.add_patch(Ellipse((1885, yc), 29, 29, color=col, lw=0))
    lax.text(1935, yc, lab, fontsize=14, va='center', ha='left')

# gemeinsame Achsenbeschriftungen
fig.text(42 / W, 1 - 405 / H, r'$-\mathrm{Log}_{10}\ P$', rotation=90, ha='center', va='center', fontsize=28)
fig.text(921 / W, 1 - 907 / H, r'Log$_2$ fold change', ha='left', va='baseline', fontsize=28)

fig.savefig('out.png', dpi=DPI, facecolor='white')
